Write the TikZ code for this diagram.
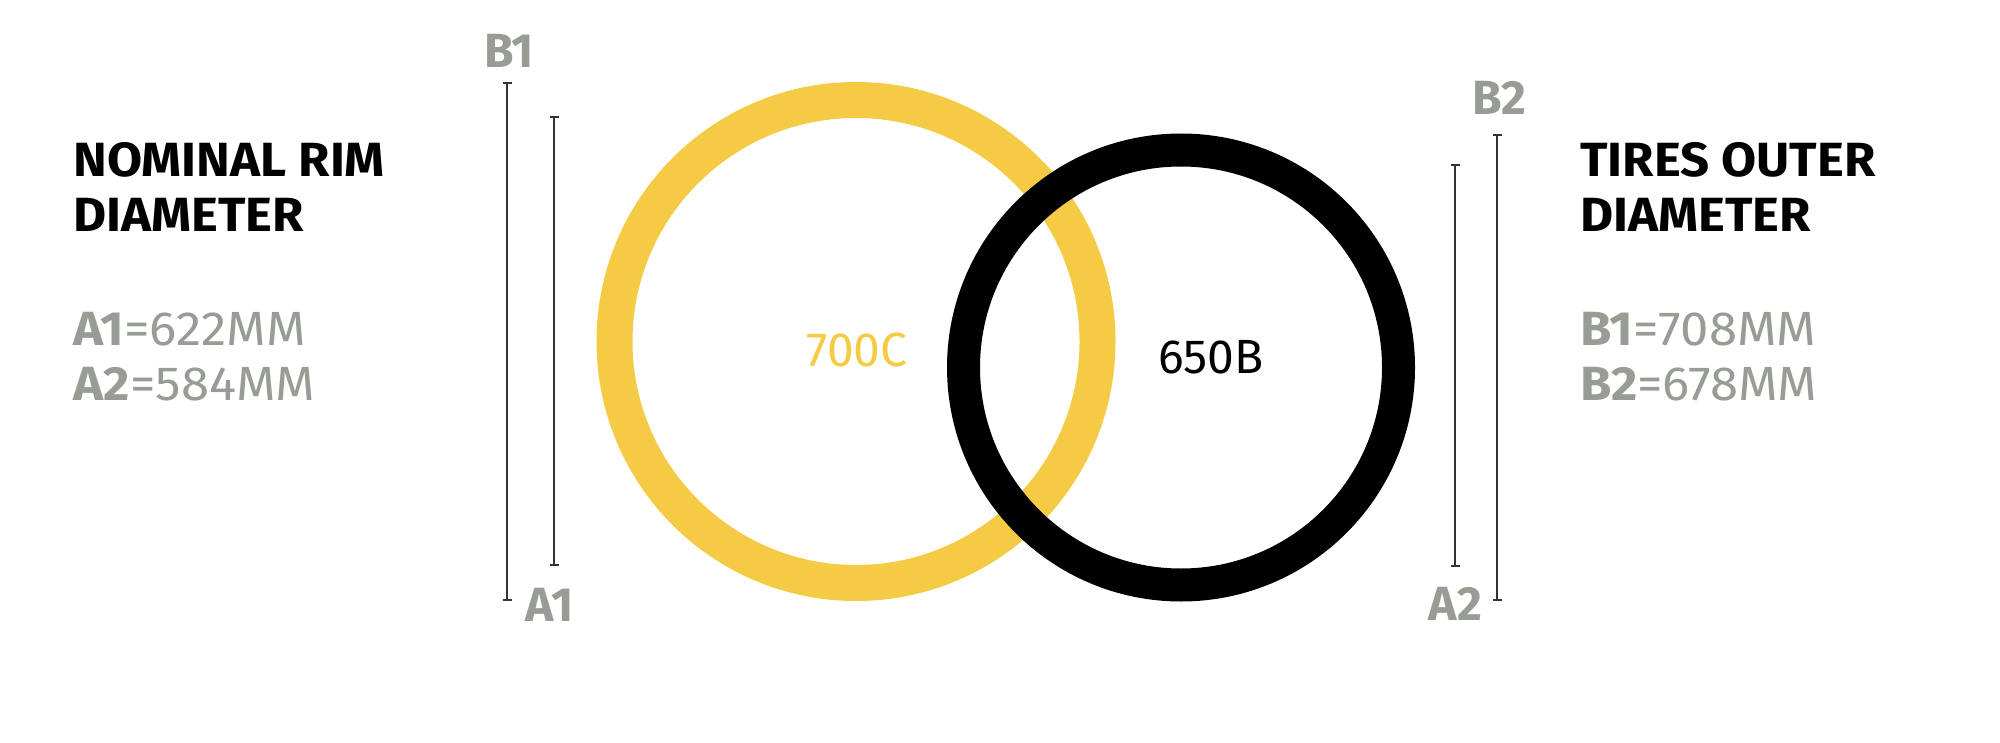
\documentclass[tikz,border=0pt]{standalone}
\usepackage{fontspec}
\setmainfont{Fira Sans}
\newfontfamily\sidefont{Fira Sans}[FakeStretch=1.06]
\usetikzlibrary{arrows.meta}
\definecolor{ringyellow}{HTML}{F5CB45}
\definecolor{labelgray}{HTML}{979D94}
\definecolor{dimgray}{HTML}{333333}
\begin{document}
\begin{tikzpicture}[x=0.5pt,y=-0.5pt,
  heading/.style={anchor=base west,inner sep=0pt,font=\sidefont\fontsize{24}{24}\selectfont\bfseries,text=black},
  value/.style={anchor=base west,inner sep=0pt,font=\sidefont\fontsize{24}{24}\selectfont,text=labelgray},
  dimlabel/.style={anchor=base,inner sep=0pt,font=\fontsize{24}{24}\selectfont\bfseries,text=labelgray},
  sizelabel/.style={anchor=base,inner sep=0pt,font=\fontsize{24}{24}\selectfont},
  dimline/.style={draw=dimgray,line width=1pt,{Bar[width=4.5pt,line width=1pt]}-{Bar[width=4.5pt,line width=1pt]}}]
\useasboundingbox[fill=white] (0,0) rectangle (2000,743);
% rings
\draw[ringyellow,line width=18pt] (856,341.5) circle[radius=241.5];
\draw[black,line width=16.5pt] (1181,367.5) circle[radius=217.5];
% size labels
\node[sizelabel,text=ringyellow] (c700) at (857,366) {700C};
\node[sizelabel,text=black] (b650) at (1211,373) {650B};
% dimension lines
\coordinate (b1t) at (507,82);
\coordinate (b1b) at (507,601);
\coordinate (a1t) at (554,116);
\coordinate (a1b) at (554,566);
\coordinate (a2t) at (1455,164);
\coordinate (a2b) at (1455,567);
\coordinate (b2t) at (1497,134);
\coordinate (b2b) at (1497,601);
\draw[dimline] (b1t) -- (b1b);
\draw[dimline] (a1t) -- (a1b);
\draw[dimline] (a2t) -- (a2b);
\draw[dimline] (b2t) -- (b2b);
\node[dimlabel] (lb1) at (509,68) {B1};
\node[dimlabel] (la1) at (550,621) {A1};
\node[dimlabel] (lb2) at (1499,115) {B2};
\node[dimlabel] (la2) at (1455,620) {A2};
% left text
\node[heading] (h1) at (73,177) {NOMINAL RIM};
\node[heading] (h2) at (73,232) {DIAMETER};
\node[value] (v1) at (73,345) {\textbf{A1}=622MM};
\node[value] (v2) at (73,400) {\textbf{A2}=584MM};
% right text
\node[heading] (h3) at (1580,177) {TIRES OUTER};
\node[heading] (h4) at (1580,232) {DIAMETER};
\node[value] (v3) at (1580,345) {\textbf{B1}=708MM};
\node[value] (v4) at (1580,400) {\textbf{B2}=678MM};
\end{tikzpicture}
\end{document}
